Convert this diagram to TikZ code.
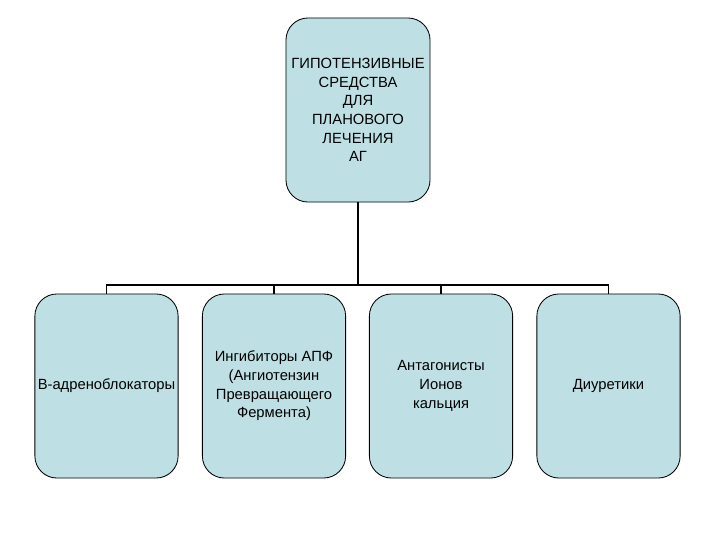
\documentclass[tikz,border=0pt]{standalone}
\usepackage{fontspec}
\setmainfont{Liberation Sans}
\usepackage{xcolor}
\usepackage{tikz}
\definecolor{boxfill}{RGB}{190,224,228}

\tikzset{
  block/.style={draw, rounded corners=0.55cm, fill=boxfill, line width=0.6pt,
    minimum width=3.58cm, minimum height=4.6cm, align=center,
    font=\fontsize{10.5}{13.3}\selectfont, inner sep=1pt},
  link/.style={line width=1.4pt}
}

\begin{document}
\begin{tikzpicture}[x=0.025cm, y=-0.025cm]
      \useasboundingbox (0,0) rectangle (720,540);

      \node[block, minimum width=3.6cm] (top) at (358,110)
        {ГИПОТЕНЗИВНЫЕ\\СРЕДСТВА\\ДЛЯ\\ПЛАНОВОГО\\ЛЕЧЕНИЯ\\АГ};

      \node[block] (beta) at (106.5,386) {В-адреноблокаторы};
      \node[block] (apf) at (274,386)
        {Ингибиторы АПФ\\(Ангиотензин\\Превращающего\\Фермента)};
      \node[block] (calc) at (441,386) {Антагонисты\\Ионов\\кальция};
      \node[block] (diur) at (608.5,386) {Диуретики};

      \coordinate (hub) at (358,285);

      \draw[link] (top.south) -- (hub);
      \draw[link] (hub) -| (beta.north);
      \draw[link] (hub) -| (apf.north);
      \draw[link] (hub) -| (calc.north);
      \draw[link] (hub) -| (diur.north);
    \end{tikzpicture}
\end{document}
